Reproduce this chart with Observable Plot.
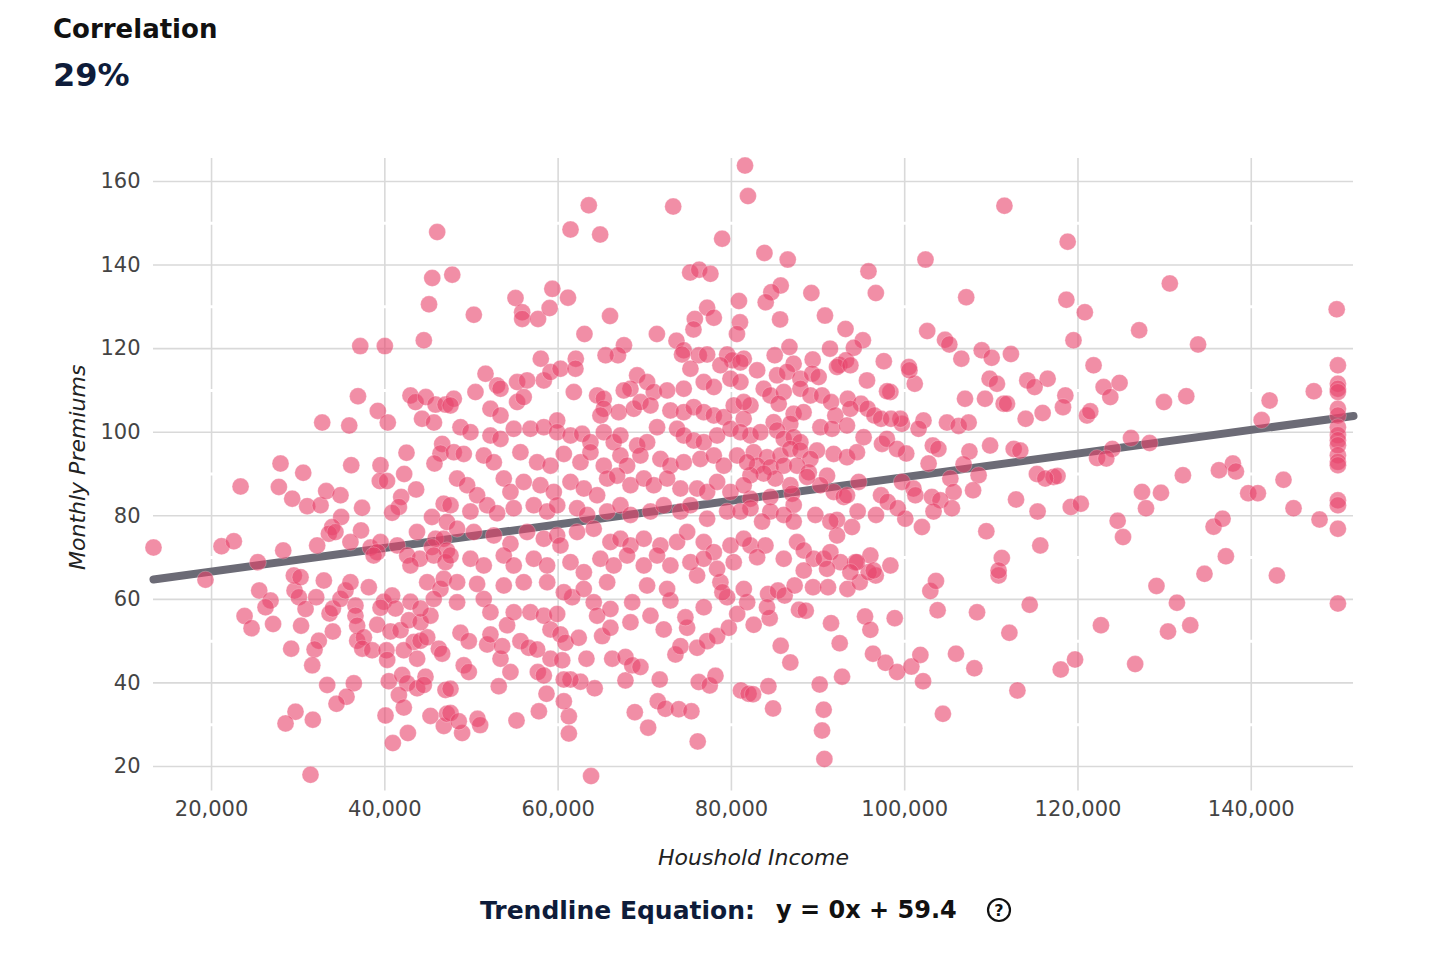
<!DOCTYPE html>
<html><head><meta charset="utf-8">
<script src="https://cdn.jsdelivr.net/npm/d3@7"></script>
<script src="https://cdn.jsdelivr.net/npm/@observablehq/plot@0.6"></script>
<style>
body{margin:0;background:#fff;font-family:"DejaVu Sans",sans-serif;}
#head{position:relative;height:120px;}
#t1{position:absolute;left:53px;top:16px;font-size:26px;line-height:1;font-weight:bold;color:#111;}
#t2{position:absolute;left:53px;top:59px;font-size:32px;line-height:1;font-weight:bold;color:#0e1c3a;}
#chart svg{display:block;}
#foot{position:relative;height:78px;}
#eq{position:absolute;left:480px;top:12px;height:36px;display:flex;align-items:center;white-space:nowrap;}
#eq .lab{font-size:25px;font-weight:bold;color:#0e1c3a;}
#eq .val{font-size:24px;font-weight:bold;color:#111;margin-left:21px;}
#eq svg{margin-left:28px;}
</style></head>
<body>
<div id="head"><div id="t1">Correlation</div><div id="t2">29%</div></div>
<div id="chart"></div>
<div id="foot"><div id="eq"><span class="lab">Trendline Equation:</span><span class="val">y = 0x + 59.4</span>
<svg width="28" height="28" viewBox="0 0 28 28"><circle cx="14" cy="14" r="11" fill="none" stroke="#111" stroke-width="2.2"/><text x="14" y="19.5" text-anchor="middle" font-size="16" font-weight="bold" font-family="DejaVu Sans" fill="#111">?</text></svg></div></div>
<script>
const xTicks = [20000, 40000, 60000, 80000, 100000, 120000, 140000];
const yTicks = [20, 40, 60, 80, 100, 120, 140, 160];
const yMinor = [30, 50, 70, 90, 110, 130, 150];
const xDomain = [13300, 151800];
const yDomain = [17.7, 165.5];
const trendSlope = 0.0002825;
const trendIntercept = 61.0;

// [household income, monthly premium]
const ptsUpperLeft = [[46040,147.9],[45470,136.9],[47780,137.7],[45100,130.6],[44500,122.0],[37160,120.6],[40000,120.6]];
const ptsUpperMid = [[63540,154.3],[61430,148.5],[64850,147.3],[73280,154.0],[81570,163.8],[81910,156.5],[78930,146.3],[75240,138.2],[76280,138.9],[77580,137.9],[80870,131.4],[80990,126.3],[80640,123.5],[77200,129.8],[77970,127.4],[75780,127.1],[75620,124.6],[73660,121.9],[74500,119.6],[74300,118.6],[71400,123.5],[55080,132.1],[55850,128.7],[55850,127.1],[57680,127.1],[59330,134.3],[59020,129.7],[61140,132.2],[50270,128.1],[65990,127.8],[63040,123.5],[67600,120.8],[66910,118.4],[65480,118.4],[58000,117.6],[62040,117.6],[76240,118.4],[77200,118.6],[79510,118.6],[80090,117.2],[81430,117.6]];
const ptsUpperRight = [[111510,154.2],[83810,142.9],[86500,141.3],[95820,138.5],[96670,133.3],[102400,141.3],[107100,132.3],[85690,135.1],[84610,133.5],[83960,131.1],[89230,133.3],[85620,127.0],[90800,127.9],[93170,124.7],[95170,122.0],[94130,120.2],[91380,120.0],[86700,120.4],[85000,118.4],[87180,116.4],[89380,117.4],[92460,116.1],[93230,117.2],[97590,117.0],[100480,115.6],[102600,124.2],[104650,122.1],[105150,121.0],[106540,117.6],[108890,119.6],[110040,117.8],[112260,118.7],[81040,116.7],
[118810,145.6],[118660,131.7],[120790,128.7],[119480,122.0],[130600,135.6],[127060,124.4],[133860,121.0],[149860,129.4],[121800,116.0]];
const ptsMidLeft = [[36900,108.6],[32770,102.3],[35890,101.6],[39190,105.1],[40340,102.3],[42960,108.8],[43540,107.2],[44730,108.4],[45850,106.6],[47000,106.6],[44290,103.2],[45670,102.3],[46620,97.2],[46420,94.9],[45730,92.5],[42500,95.1],[27960,92.5],[30580,90.3],[36120,92.1],[39500,92.1],[39420,88.3],[40250,88.3],[42230,90.0],[41890,84.5],[41620,82.1],[40840,80.7],[43610,86.3],[23350,87.0],[27770,86.9],[29310,84.1],[31040,82.3],[32580,82.5],[33230,85.9],[34880,84.9],[37370,81.9],[34960,79.7],[33930,77.3],[33540,75.7],[34300,76.1],[32190,72.9],[37250,76.5],[36030,73.7],[38350,72.4],[39500,73.7],[39120,71.3],[38710,70.5],[41430,72.9],[42580,70.5],[43710,76.1],[45440,79.7],[46790,82.9],[47170,78.5],[45850,74.5],[46790,74.5],[45440,72.5],[47170,71.7],[44040,69.7],[42960,68.1],[45650,70.5],[47000,68.9],[13300,72.4],[21150,72.7],[22570,73.9],[28270,71.7],[25340,68.9]];
const ptsLowLeft = [[19300,64.7],[25500,62.1],[26810,59.7],[26230,58.1],[23810,56.0],[24620,53.1],[27100,54.1],[29580,62.1],[30080,60.5],[30850,57.7],[32080,60.5],[29500,65.7],[30270,65.3],[32960,64.5],[30330,53.7],[29190,48.2],[32380,50.1],[31890,48.0],[31620,44.2],[34000,52.3],[33620,56.6],[34000,57.8],[34880,60.1],[35460,62.1],[36030,64.1],[36610,58.5],[36610,56.1],[36810,53.7],[38150,62.9],[39120,53.9],[36810,50.1],[37580,50.9],[37390,48.2],[38540,47.8],[33350,39.5],[36420,39.9],[35580,36.7],[34420,35.0],[29690,33.1],[28540,30.3],[31690,31.2],[31420,18.0],[39880,59.4],[40840,60.9],[41230,57.8],[39500,58.0],[40650,52.3],[40190,47.8],[40270,45.5],[41810,52.6],[42770,55.0],[43350,49.8],[44120,50.1],[44890,50.9],[44120,54.5],[45270,56.1],[42960,59.4],[44120,57.8],[44890,64.1],[46420,62.5],[46800,64.9],[45650,60.1],[42190,47.8],[46230,48.2],[46620,47.0],[43730,45.8],[40460,40.4],[42000,41.9],[42580,39.9],[43730,38.7],[44690,41.5],[44500,39.5],[41620,37.1],[42190,34.1],[40080,32.2],[42660,28.0],[40920,25.6],[45270,32.1],[46810,29.7],[47170,32.6],[47000,38.3]];
const ptsLowMid = [[63800,17.7],[61240,27.9],[61240,32.0],[60660,35.6],[57780,33.2],[55200,31.0],[53150,39.2],[50700,31.4],[51000,29.9],[48920,28.0],[47580,32.8],[48530,30.8],[47580,38.6],[58660,37.4],[64220,38.7],[62580,40.3],[61430,40.8],[60650,40.8],[67770,40.6],[68850,33.0],[70390,29.3],[71730,40.8],[71500,35.6],[72380,33.8],[73920,33.7],[75380,33.2],[76110,26.0],[76230,40.2],[77500,39.4],[78160,41.7],[81100,38.2],[81980,37.4],
[49110,44.2],[49690,42.6],[54500,42.6],[53350,45.8],[57660,42.6],[58350,41.8],[59120,45.8],[60470,45.4],[63270,45.8],[66240,45.8],[67770,46.2],[68550,44.2],[69500,43.8],
[48730,52.0],[49690,50.0],[51810,49.2],[53540,48.8],[52190,51.6],[55650,50.0],[56610,48.4],[57580,48.0],[59120,52.8],[60270,51.6],[60850,49.6],[62380,50.8],[65080,51.2],[66040,53.2],[72190,52.8],[73540,46.8],[74120,48.8],[74890,53.2],[76040,48.4],[77200,50.0],[78350,51.2],[79700,53.2],
[48340,59.3],[51420,60.1],[52190,56.9],[54110,53.8],[54880,56.9],[56800,56.9],[58350,56.1],[59890,56.5],[61620,60.5],[64110,59.3],[64500,56.1],[66040,57.7],[68350,54.5],[68550,59.3],[70660,56.1],[72960,59.7],[74690,55.7],[76810,58.1],[79510,60.5],[80670,56.5],[81820,59.3],
[48340,64.1],[50650,63.7],[53730,63.3],[56030,64.1],[58740,64.1],[60660,61.7],[62960,62.5],[65660,64.1],[70270,63.3],[72580,62.5],[76040,65.7],[78730,64.1],[81430,62.5]];
const ptsLowRight = [[90730,21.8],[90460,28.6],[90650,33.6],[90190,39.6],[92770,41.5],[92500,49.5],[91500,54.3],[84810,33.9],[84270,39.2],[82500,37.3],[85690,48.9],[86800,44.9],[82570,53.9],[84420,55.5],[87800,57.5],[88580,57.3],[95420,55.9],[96040,52.7],[98850,55.5],[96340,47.0],[97780,44.8],[99120,42.6],[100770,43.9],[101810,46.7],[102120,40.4],[104410,32.6],[103800,57.4],[102960,62.0],[103610,64.4],[105920,47.0],[108040,43.5],[108350,56.9],[112080,52.0],[114430,58.7],[113010,38.2],[110840,65.7],[78960,61.7],[84230,61.3],[85380,62.1],[86150,60.9],[87300,63.3],[89420,62.9],[91150,62.9],[93390,62.5],[94810,64.1],[96660,65.7],[84110,58.1],
[129060,63.2],[131420,59.2],[132960,53.8],[130390,52.3],[126600,44.5],[122650,53.8],[119660,45.6],[118010,43.2],[134600,66.1],[142960,65.7],[150000,59.0]];
const ptsFarRight = [[150000,116.0],[150000,111.6],[150000,110.4],[150000,109.6],[150000,105.6],[150000,104.0],[150000,101.2],[150000,99.3],[150000,98.1],[150000,96.9],[150000,94.5],[150000,92.9],[150000,92.1],[150000,83.7],[150000,82.5],[150000,76.9],[147220,109.8],[142120,107.6],[141200,102.9],[143720,88.6],[144880,81.8],[147880,79.1],[139650,85.4],[140760,85.4],[137880,92.5],[138230,90.6],[136270,90.9],[135650,77.4],[136690,79.3],[137070,70.3],[132110,89.7],[129920,107.2],[132500,108.6],[126120,98.6],[128270,97.4],[123970,96.0],[122200,93.8],[123270,93.7],[127390,85.7],[129580,85.5],[127850,81.8],[124580,78.8],[125200,74.9],[119170,82.1],[120330,82.9],[117180,89.3],[117640,89.5],[122960,110.8],[123730,108.4],[124800,111.8],[118540,108.8],[118270,106.0],[121040,104.0],[121420,105.0],[116500,112.8]];
const ptsMidRight = [[101160,111.6],[100550,114.8],[106960,108.0],[109270,108.0],[111420,106.8],[111810,106.8],[109800,112.8],[110650,111.6],[113960,103.2],[115920,104.6],[114150,112.4],[114990,110.8],[104880,102.3],[106220,101.5],[107380,102.3],[102170,102.8],[101600,100.8],[99680,102.0],[99500,103.2],[103250,96.8],[103890,96.0],[107470,95.4],[109860,96.8],[112580,96.0],[113340,95.6],[102760,92.5],[106800,92.3],[108530,89.7],[105270,88.9],[105650,85.7],[107890,86.1],[115260,90.0],[116220,88.9],[99680,88.1],[100180,94.9],[101010,86.5],[101230,84.9],[103140,84.5],[104110,83.7],[105450,81.8],[103330,81.0],[100070,79.3],[101990,77.3],[112850,83.9],[115340,81.0],[115650,72.9],[109420,76.3],[111210,69.9],[110840,66.9],[98350,68.1],[96040,70.5],[94310,68.9],[95840,66.5]];
const ptsCenterRight = [[95650,112.4],[98350,109.6],[97970,109.8],[92190,115.6],[93730,116.0],[82970,114.8],[85270,113.6],[86420,114.4],[87960,112.8],[89310,114.0],[90070,113.2],[83730,110.4],[84500,108.8],[86040,109.6],[87960,110.4],[89120,108.8],[90460,108.8],[82200,106.4],[85460,106.8],[91500,107.2],[93420,108.0],[94960,106.8],[95730,105.6],[96500,104.0],[97270,103.2],[98420,103.2],[87180,104.4],[88330,104.8],[91990,104.0],[93730,105.6],[84880,102.4],[86800,102.0],[90270,101.2],[91610,100.8],[93340,101.6],[95260,98.8],[97380,97.2],[97950,98.4],[99110,96.0],[82200,99.2],[83350,100.0],[85270,100.4],[86040,98.4],[87190,98.8],[87960,97.6],[89880,95.6],[91800,94.8],[93340,94.0],[94490,95.2],[82580,95.2],[84110,94.0],[85650,94.4],[86800,96.0],[87960,95.6],[89120,93.6],[82970,92.0],[84500,91.6],[86040,92.0],[87580,92.0],[88930,90.4],[91040,89.6],[94690,88.1],[91810,85.7],[92960,84.5],[90270,87.3],[88730,89.3],[86800,87.3],[85070,88.9],[83730,90.1],[82200,89.7],[82200,84.1],[84500,84.5],[87000,85.3],[97270,84.9],[98040,83.3],[99190,81.8],[96690,80.2],[94570,81.0],[92190,79.0],[89690,80.2],[87190,82.6],[84500,81.0],[82200,81.8],[86040,80.2],[83540,78.6],[87190,78.6],[92190,75.3],[93920,77.3],[91420,78.6],[93340,84.9],[82200,72.9],[83930,72.9],[82970,70.1],[86040,69.7],[87580,73.7],[88350,71.7],[89500,69.7],[90650,69.7],[91420,71.3],[92580,68.9],[94490,68.9],[88350,66.9],[91040,67.3],[93730,66.5],[96420,66.9]];
const ptsCenter = [[51620,114.0],[52960,111.2],[53350,110.4],[55270,112.0],[56420,112.4],[58350,112.4],[59120,114.4],[60270,115.2],[62000,115.2],[69120,113.6],[70270,112.0],[68350,110.4],[67580,110.0],[71040,109.6],[72580,110.0],[74500,110.4],[76810,112.0],[77970,110.8],[79890,112.8],[81040,112.0],[75270,115.2],[78730,116.0],[50460,109.6],[47960,108.0],[47580,106.4],[61810,109.6],[64500,108.8],[65270,108.0],
[52190,105.6],[53350,104.0],[55270,107.2],[56030,108.4],[59890,102.8],[65270,105.6],[64880,104.0],[66990,104.8],[68730,105.6],[69500,107.2],[70660,106.4],[72960,105.2],[74500,104.8],[75650,106.0],[76810,104.8],[77970,104.0],[79120,103.6],[80270,106.4],[81420,107.2],[81420,103.2],
[48730,101.2],[49880,100.0],[52190,99.2],[53350,98.4],[54880,100.8],[56800,100.8],[58350,101.2],[59890,100.0],[61430,99.2],[62770,99.6],[63730,97.6],[65270,100.0],[66420,97.6],[67190,99.2],[69120,96.8],[70270,97.6],[71420,101.2],[73730,100.8],[74500,99.2],[75650,98.0],[76810,97.6],[78350,99.2],[79890,100.8],[81040,100.0],
[47960,95.2],[49110,94.8],[51420,94.4],[52580,92.8],[55650,95.2],[57580,92.8],[59120,92.0],[60660,94.8],[62580,92.8],[63730,95.2],[65270,92.0],[67190,94.4],[67960,92.0],[69500,94.4],[71810,93.6],[72960,92.0],[74500,92.8],[76420,93.6],[77970,94.4],[79120,92.0],[80660,94.4],[81810,92.8],
[48340,88.9],[49500,87.3],[50650,84.9],[53730,88.9],[54500,85.7],[56030,88.1],[57960,87.3],[59500,85.7],[61430,88.1],[62970,86.5],[64500,84.9],[65660,88.9],[66810,89.6],[68350,87.3],[69890,88.9],[71040,87.3],[72580,88.9],[74120,86.5],[76040,86.5],[77200,85.7],[78350,88.1],[79890,85.7],[81420,87.3],
[47580,82.5],[49880,81.0],[51810,82.5],[52960,80.6],[54880,81.8],[57190,82.5],[58730,81.0],[59890,82.5],[62190,81.8],[63350,80.2],[65660,81.0],[67190,82.5],[68350,80.2],[70660,81.0],[72190,82.5],[74120,81.0],[75270,82.5],[77200,79.3],[79510,81.0],[81040,81.0],
[48340,76.9],[50270,76.1],[52580,75.3],[54500,73.3],[56420,76.1],[58350,74.5],[59890,75.3],[60270,72.9],[62190,76.1],[64110,76.9],[66040,73.7],[67190,74.5],[68350,72.9],[69890,74.5],[71810,72.9],[73730,73.7],[74890,76.1],[76810,73.7],[77970,71.3],[79890,72.9],[81420,74.5],
[47580,70.5],[49880,69.7],[51420,68.1],[53730,70.5],[54880,68.1],[57190,69.7],[58730,68.1],[61430,68.9],[62970,66.5],[64880,69.7],[66420,68.1],[67960,70.5],[69890,68.1],[71420,70.5],[72960,68.1],[75270,68.9],[76810,69.7],[78350,67.3],[80270,68.9]];

const points = [].concat(ptsUpperLeft, ptsUpperMid, ptsUpperRight, ptsMidLeft, ptsLowLeft, ptsLowMid, ptsLowRight, ptsFarRight, ptsMidRight, ptsCenterRight, ptsCenter)
  .map(([income, premium]) => ({income, premium}));
const trend = xDomain.map(x => ({x, y: trendIntercept + trendSlope * x}));

const H = 760;
const chart = Plot.plot({
  width: 1438, height: H,
  marginLeft: 153, marginRight: 85, marginTop: 38, marginBottom: H - (775.6 - 120),
  x: {domain: xDomain},
  y: {domain: yDomain},
  style: {fontFamily: "DejaVu Sans", fontSize: "21px", color: "#444", background: "white", overflow: "visible"},
  marks: [
    Plot.gridY(yTicks, {stroke: "#d9d9d9", strokeOpacity: 1, strokeWidth: 1.6}),
    Plot.gridX(xTicks, {stroke: "#d9d9d9", strokeOpacity: 1, strokeWidth: 1.6, insetBottom: -15}),
    Plot.gridY(yMinor, {stroke: "white", strokeOpacity: 1, strokeWidth: 3}),
    Plot.axisY(yTicks, {tickSize: 0, tickPadding: 13, label: null, fill: "#444"}),
    Plot.axisX(xTicks, {tickSize: 0, tickPadding: 25, label: null, fill: "#444", tickFormat: d3.format(",")}),
    Plot.text(["Monthly Premiums"], {text: d => d, frameAnchor: "left", textAnchor: "middle", lineAnchor: "middle", rotate: -90, dx: -76, fontStyle: "italic", fontSize: 22, fill: "#222"}),
    Plot.text(["Houshold Income"], {text: d => d, frameAnchor: "bottom", textAnchor: "middle", lineAnchor: "middle", dy: 82, fontStyle: "italic", fontSize: 22, fill: "#222"}),
    Plot.line(trend, {x: "x", y: "y", stroke: "#6c6b76", strokeWidth: 8}),
    Plot.dot(points, {x: "income", y: "premium", r: 8.5, fill: "#e8436a", fillOpacity: 0.6, stroke: "white", strokeWidth: 0.6, strokeOpacity: 0.4})
  ]
});
document.getElementById("chart").appendChild(chart);
</script>
</body></html>
